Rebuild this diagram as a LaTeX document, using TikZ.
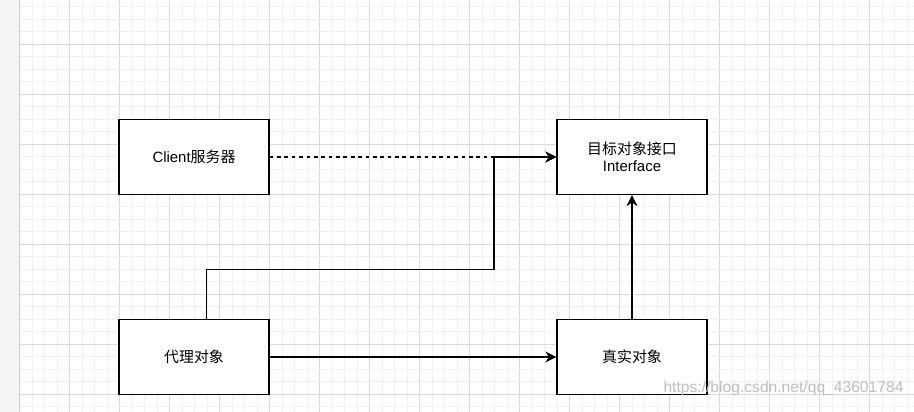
\documentclass[tikz,border=0pt]{standalone}
\usepackage{fontspec}
\setmainfont{Liberation Sans}
\newfontfamily\cjk{Noto Sans CJK SC}
\usetikzlibrary{arrows.meta, positioning}

\begin{document}
\begin{tikzpicture}[x=0.02cm, y=-0.02cm,
		box/.style={draw, line width=0.75pt, fill=white, minimum width=3cm, minimum height=1.5cm, align=center, font=\fontsize{8.5}{9.6}\selectfont},
		link/.style={line width=0.75pt, -{Stealth[length=0.22cm, width=0.22cm, inset=0.07cm]}},
		minorline/.style={draw=black!6, line width=0.5pt},
		majorline/.style={draw=black!15, line width=0.6pt}]
		\useasboundingbox (0,0) rectangle (914,412);
		
		% page and grid
		\fill[white] (0,0) rectangle (914,412);
		\fill[black!4] (0,0) rectangle (19.5,412);
		\foreach \k in {0,...,71}{
			\pgfmathtruncatemacro{\r}{mod(\k,4)}
			\ifnum\r=0 \draw[majorline] (19.5+12.5*\k,0) -- (19.5+12.5*\k,412);
			\else \draw[minorline] (19.5+12.5*\k,0) -- (19.5+12.5*\k,412); \fi
		}
		\foreach \k in {0,...,32}{
			\pgfmathtruncatemacro{\r}{mod(\k,4)}
			\ifnum\r=3 \draw[majorline] (19.5,6.8+12.5*\k) -- (914,6.8+12.5*\k);
			\else \draw[minorline] (19.5,6.8+12.5*\k) -- (914,6.8+12.5*\k); \fi
		}
		\draw[black!20, line width=0.6pt] (19.5,0) -- (19.5,412);
		
		\node[box] (client) at (194,157) {Client{\cjk 服务器}};
		\node[box] (iface) at (632,157) {{\cjk 目标对象接口}\\Interface};
		\node[box] (proxy) at (194,357) {\cjk 代理对象};
		\node[box] (real) at (632,357) {\cjk 真实对象};
		
		\coordinate (bendlow) at (206.7,269.3);
		\coordinate (bendhigh) at (494,269.3);
		
		\draw[link, dash pattern=on 2.1pt off 2.1pt] (client.east) -- (iface.west);
		\draw[link] (proxy.north -| bendlow) -- (bendlow) -- (bendhigh) |- (iface.west);
		\draw[link] (proxy.east) -- (real.west);
		\draw[link] (real.north) -- (iface.south);
		
		\node[text=black!25, font=\fontsize{8.9}{10}\selectfont] (mark) at (783.5,388) {https://blog.csdn.net/qq\_43601784};
\end{tikzpicture}
\end{document}
